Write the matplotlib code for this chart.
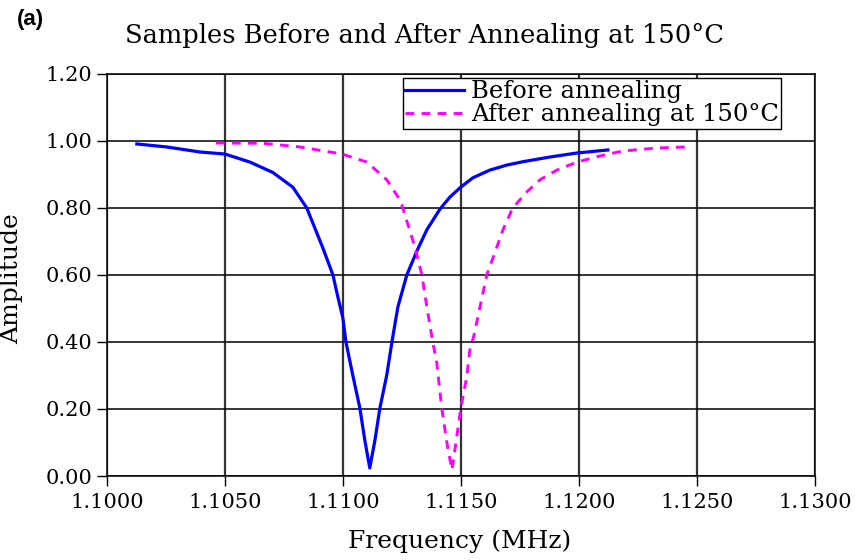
import matplotlib
matplotlib.use("Agg")
import matplotlib.pyplot as plt
from matplotlib.ticker import FormatStrFormatter

# Before annealing
freq_before = [1.10127, 1.10254, 1.10394, 1.10500, 1.10606, 1.10703, 1.10788,
               1.10847, 1.10915, 1.10958, 1.10975, 1.11000, 1.11013, 1.11042,
               1.11072, 1.11093, 1.11114, 1.11136, 1.11157, 1.11186, 1.11208,
               1.11233, 1.11271, 1.11314, 1.11356, 1.11411, 1.11453, 1.11496,
               1.11551, 1.11623, 1.11695, 1.11763, 1.11877, 1.11992, 1.12123]
amp_before = [0.991, 0.982, 0.967, 0.961, 0.937, 0.906, 0.862,
              0.800, 0.681, 0.600, 0.546, 0.472, 0.400, 0.301,
              0.203, 0.107, 0.024, 0.107, 0.203, 0.301, 0.400,
              0.504, 0.600, 0.672, 0.735, 0.796, 0.832, 0.860,
              0.890, 0.913, 0.928, 0.938, 0.952, 0.964, 0.973]

# After annealing at 150 C
freq_after = [1.10462, 1.10661, 1.10818, 1.10996, 1.11102, 1.11186, 1.11242,
              1.11254, 1.11305, 1.11335, 1.11356, 1.11381, 1.11398, 1.11419,
              1.11441, 1.11462, 1.11479, 1.11500, 1.11525, 1.11538, 1.11555,
              1.11610, 1.11653, 1.11678, 1.11720, 1.11780, 1.11835, 1.11907,
              1.11992, 1.12089, 1.12186, 1.12331, 1.12458]
amp_after = [0.994, 0.993, 0.982, 0.961, 0.937, 0.884, 0.824,
             0.800, 0.684, 0.600, 0.504, 0.400, 0.337, 0.203,
             0.099, 0.018, 0.099, 0.203, 0.296, 0.376, 0.418,
             0.600, 0.684, 0.734, 0.800, 0.848, 0.884, 0.913,
             0.937, 0.955, 0.970, 0.979, 0.982]

xticks = [1.1000, 1.1050, 1.1100, 1.1150, 1.1200, 1.1250, 1.1300]
yticks = [0.0, 0.2, 0.4, 0.6, 0.8, 1.0, 1.2]

plt.rcParams['font.family'] = ['DejaVu Serif']

fig = plt.figure(figsize=(8.55, 5.6), dpi=100)
ax = fig.add_axes([0.125, 0.15, 0.828, 0.718])

ax.plot(freq_before, amp_before, color='#0000FF', lw=2.3, label='Before annealing')
ax.plot(freq_after, amp_after, color='#FF00FF', lw=2.1, ls=(0, (3, 2.5)),
        label='After annealing at 150°C')

ax.set_xlim(1.1, 1.13)
ax.set_ylim(0, 1.2)
ax.set_xticks(xticks)
ax.set_yticks(yticks)
ax.xaxis.set_major_formatter(FormatStrFormatter('%.4f'))
ax.yaxis.set_major_formatter(FormatStrFormatter('%.2f'))
ax.tick_params(direction='out', length=7, width=1, labelsize=15, colors='black')
ax.tick_params(axis='x', pad=5)
ax.grid(True, axis='y', color='black', lw=1.1)
ax.grid(True, axis='x', color='#333333', lw=1.6)
ax.set_axisbelow(True)
for s in ax.spines.values():
    s.set_linewidth(1.1)
    s.set_color('black')

ax.set_xlabel('Frequency (MHz)', fontsize=18)
ax.set_ylabel('Amplitude', fontsize=18)
ax.xaxis.set_label_coords(0.4986, -0.132)
ax.yaxis.set_label_coords(-0.118, 0.49)

leg = ax.legend(loc='upper left', bbox_to_anchor=(0.418, 0.99), fontsize=17.5,
                frameon=True, fancybox=False, edgecolor='black', framealpha=1,
                handlelength=2.4, handletextpad=0.3, borderpad=0.1,
                labelspacing=0.0, borderaxespad=0)
leg.get_frame().set_linewidth(1.0)

fig.text(0.497, 0.937, 'Samples Before and After Annealing at 150°C',
         ha='center', va='center', fontsize=18.5)
fig.text(0.036, 0.966, '(a)', ha='center', va='center', fontsize=16,
         fontweight='bold', family=['Liberation Sans Narrow', 'Liberation Sans'])

fig.savefig('out.png', dpi=100)
